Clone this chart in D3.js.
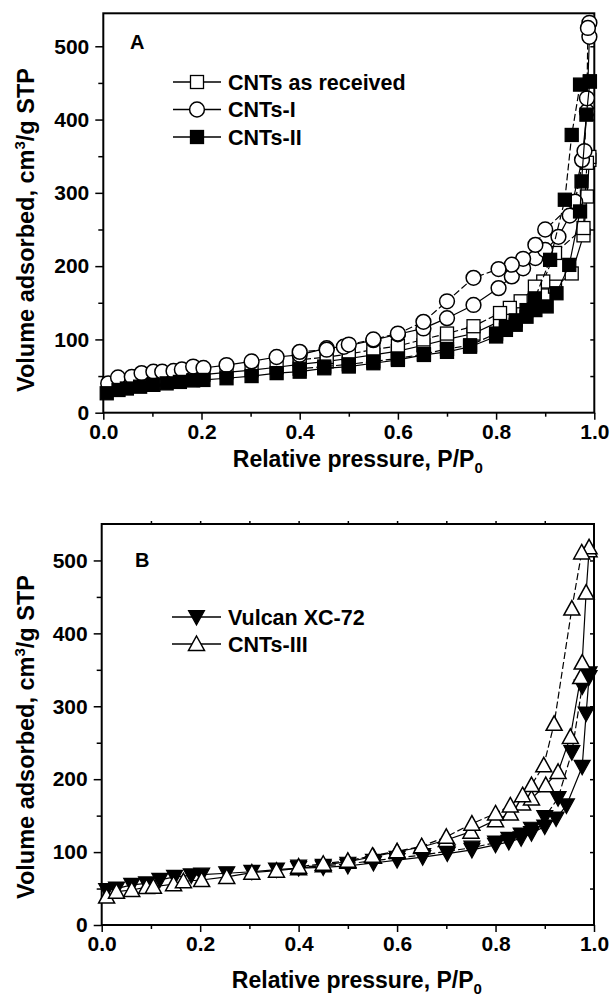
<!DOCTYPE html>
<html><head><meta charset="utf-8">
<script src="https://cdn.jsdelivr.net/npm/d3@7/dist/d3.min.js"></script>
<style>
body{margin:0;background:#fff;}
text{font-family:"Liberation Sans",Arial,Helvetica,sans-serif;font-weight:bold;fill:#000;}
</style></head><body>
<svg id="chart" width="613" height="997"></svg>
<script>
// ---------- DATA ----------
// Panel A
const recvAds = [[0.01,33],[0.03,37],[0.055,40],[0.078,43],[0.102,45],[0.12,46],[0.143,48],[0.16,49],[0.183,51],[0.204,52],[0.251,55],[0.302,58],[0.353,62],[0.40,66],[0.455,70],[0.50,74],[0.55,79],[0.60,84],[0.652,92],[0.70,100],[0.754,108],[0.808,125],[0.83,133],[0.855,141],[0.879,150],[0.90,160],[0.92,172],[0.954,190],[0.978,242],[0.985,295],[0.99,345]];
const recvDes = [[0.99,349],[0.985,341],[0.978,252],[0.92,218],[0.896,179],[0.879,172],[0.85,152],[0.828,143],[0.808,136],[0.754,118],[0.70,108],[0.652,100],[0.60,91],[0.55,86],[0.50,80],[0.455,76],[0.40,72]];
const cnt1Ads = [[0.01,40],[0.03,48],[0.058,49],[0.078,54],[0.102,56],[0.12,56],[0.143,57],[0.16,59],[0.183,63],[0.204,61],[0.251,65],[0.302,70],[0.353,76],[0.40,79],[0.455,88],[0.49,90],[0.55,99],[0.60,107],[0.652,115],[0.70,129],[0.754,147],[0.805,170],[0.832,186],[0.855,197],[0.88,211],[0.90,222],[0.927,240],[0.95,269],[0.975,345],[0.985,411],[0.99,513]];
const cnt1Des = [[0.99,532],[0.987,525],[0.985,429],[0.98,357],[0.961,288],[0.90,250],[0.88,229],[0.855,210],[0.832,202],[0.805,196],[0.754,184],[0.70,152],[0.652,124],[0.60,108],[0.55,100],[0.50,93],[0.455,86],[0.40,83]];
const cnt2Ads = [[0.007,26.5],[0.031,31],[0.048,33],[0.075,35.5],[0.102,38],[0.129,40],[0.156,42],[0.183,44],[0.204,44.7],[0.251,47],[0.302,50],[0.353,54],[0.40,56],[0.45,60.6],[0.50,63],[0.55,67.5],[0.60,72],[0.653,78.8],[0.70,83],[0.747,90],[0.80,104],[0.82,113],[0.84,120],[0.862,131],[0.88,140],[0.903,145],[0.923,163],[0.949,201.7],[0.971,274.6],[0.974,315.6],[0.984,406.7],[0.991,452]];
const cnt2Des = [[0.991,452],[0.971,447.7],[0.954,379],[0.94,290.6],[0.91,208.6],[0.879,156],[0.862,140],[0.84,126],[0.82,117],[0.80,108],[0.747,92],[0.70,87],[0.653,80],[0.60,74],[0.55,70],[0.50,66],[0.45,63],[0.40,60]];
// Panel B
const vulcAds = [[0.01,48],[0.03,50],[0.061,55],[0.091,57],[0.118,62],[0.148,66],[0.182,68],[0.203,69],[0.254,71],[0.305,73],[0.355,76],[0.40,78],[0.45,79],[0.50,81],[0.552,85],[0.60,89],[0.652,93],[0.702,98],[0.752,103],[0.80,110],[0.827,114],[0.852,119],[0.873,126],[0.90,135],[0.923,146],[0.944,164],[0.976,217],[0.984,290],[0.99,340]];
const vulcDes = [[0.99,345],[0.976,327],[0.955,237],[0.927,174],[0.90,148],[0.873,132],[0.852,124],[0.827,118],[0.80,113],[0.752,106],[0.702,101],[0.652,96],[0.60,92],[0.552,88],[0.50,84],[0.45,81],[0.40,80]];
const cnt3Ads = [[0.01,39],[0.03,45.7],[0.061,48],[0.091,52],[0.105,52.5],[0.146,56],[0.166,60],[0.203,61.7],[0.254,66],[0.305,71.8],[0.355,74.5],[0.40,77.7],[0.45,82],[0.50,86.8],[0.552,93.7],[0.60,100.5],[0.65,107],[0.70,116.6],[0.75,128],[0.80,143.8],[0.83,153],[0.855,166.7],[0.873,173.5],[0.902,191.8],[0.927,210],[0.952,258],[0.973,340],[0.976,360],[0.984,456],[0.99,514]];
const cnt3Des = [[0.99,518],[0.975,511],[0.955,434],[0.919,276],[0.898,219],[0.873,192],[0.855,178],[0.83,164],[0.80,153],[0.752,139],[0.70,121],[0.65,108],[0.60,101],[0.55,95],[0.50,88],[0.45,84],[0.40,80]];

const xMajor = [0,0.2,0.4,0.6,0.8,1.0];
const xMinor = [0.1,0.3,0.5,0.7,0.9];
const yMajor = [0,100,200,300,400,500];
const yMinor = [50,150,250,350,450];
const yRight = [50,100,150,200,250,300,350,400,450,500];
const xTop = [0.1,0.2,0.3,0.4,0.5,0.6,0.7,0.8,0.9];

const legendA = ["CNTs as received","CNTs-I","CNTs-II"];
const legendB = ["Vulcan XC-72","CNTs-III"];

// ---------- DRAW ----------
const svg = d3.select("#chart");
svg.append("rect").attr("width",613).attr("height",997).attr("fill","#fff");

function marker(g, type, cx, cy){
  if(type==="sqOpen"||type==="sqFill"){
    g.append("rect").attr("x",cx-6.5).attr("y",cy-6.5).attr("width",13).attr("height",13)
     .attr("fill",type==="sqFill"?"#000":"#fff").attr("stroke","#000").attr("stroke-width",1.3);
  } else if(type==="circ"){
    g.append("circle").attr("cx",cx).attr("cy",cy).attr("r",7.4)
     .attr("fill","#fff").attr("stroke","#000").attr("stroke-width",1.5);
  } else if(type==="triUp"){
    g.append("path").attr("d",`M${cx},${cy-8}L${cx+8},${cy+6.5}L${cx-8},${cy+6.5}Z`)
     .attr("fill","#fff").attr("stroke","#000").attr("stroke-width",1.5);
  } else if(type==="triDown"){
    g.append("path").attr("d",`M${cx},${cy+8}L${cx+8},${cy-6.5}L${cx-8},${cy-6.5}Z`)
     .attr("fill","#000").attr("stroke","#000").attr("stroke-width",1.2);
  }
}

function panel(cfg){
  const x = d3.scaleLinear().domain([0,1]).range([cfg.left,cfg.right]);
  const y = d3.scaleLinear().domain([0,cfg.ymax]).range([cfg.bottom,cfg.top]);
  const g = svg.append("g");

  g.append("g").attr("transform",`translate(0,${cfg.bottom})`)
    .call(d3.axisBottom(x).tickValues(xMajor).tickSize(7).tickSizeOuter(0).tickPadding(4).tickFormat(d3.format(".1f")));
  g.append("g").attr("transform",`translate(0,${cfg.bottom})`)
    .call(d3.axisBottom(x).tickValues(xMinor).tickSize(4).tickSizeOuter(0).tickFormat(""));
  g.append("g").attr("transform",`translate(${cfg.left},0)`)
    .call(d3.axisLeft(y).tickValues(yMajor).tickSize(8).tickSizeOuter(0).tickPadding(6));
  g.append("g").attr("transform",`translate(${cfg.left},0)`)
    .call(d3.axisLeft(y).tickValues(yMinor).tickSize(5).tickSizeOuter(0).tickFormat(""));
  g.append("g").attr("transform",`translate(${cfg.right},0)`)
    .call(d3.axisRight(y).tickValues(yRight).tickSize(-4).tickSizeOuter(0).tickFormat(""));
  if(cfg.topTicks){
    g.append("g").attr("transform",`translate(0,${cfg.top})`)
      .call(d3.axisTop(x).tickValues(xTop).tickSize(3).tickSizeOuter(0).tickFormat(""));
  }
  g.selectAll(".domain").remove();
  g.selectAll(".tick line").attr("stroke","#000").attr("stroke-width",1.5);
  g.selectAll(".tick text").attr("font-size",21).attr("font-weight","bold")
    .attr("font-family","'Liberation Sans',Arial,sans-serif").attr("fill","#000");

  g.append("rect").attr("x",cfg.left).attr("y",cfg.top)
    .attr("width",cfg.right-cfg.left).attr("height",cfg.bottom-cfg.top)
    .attr("fill","none").attr("stroke","#000").attr("stroke-width",2);

  const line = d3.line().x(d=>x(d[0])).y(d=>y(d[1]));
  cfg.series.forEach(s=>{
    const sg = g.append("g");
    sg.append("path").datum(s.ads).attr("d",line).attr("fill","none")
      .attr("stroke","#000").attr("stroke-width",1.2);
    sg.append("path").datum(s.des).attr("d",line).attr("fill","none")
      .attr("stroke","#000").attr("stroke-width",1.2).attr("stroke-dasharray","7,3");
    s.ads.concat(s.des).forEach(d=>marker(sg,s.type,x(d[0]),y(d[1])));
  });

  g.append("text").attr("x",cfg.letterX).attr("y",cfg.letterY).attr("font-size",20).text(cfg.letter);

  cfg.legend.forEach((name,i)=>{
    const ly = cfg.legY + i*cfg.legDy;
    g.append("line").attr("x1",cfg.legX1).attr("x2",cfg.legX2).attr("y1",ly).attr("y2",ly)
      .attr("stroke","#000").attr("stroke-width",1.5);
    marker(g,cfg.series[i].type,(cfg.legX1+cfg.legX2)/2,ly);
    g.append("text").attr("x",cfg.legX2+7).attr("y",ly+7.5).attr("font-size",21.5).text(name);
  });

  const xt = g.append("text").attr("x",(cfg.left+cfg.right)/2+9).attr("y",cfg.xTitleY)
    .attr("text-anchor","middle").attr("font-size",23);
  xt.append("tspan").text("Relative pressure, P/P");
  xt.append("tspan").attr("dy",6).attr("font-size",15).text("0");

  const yt = g.append("text").attr("transform",`translate(${cfg.yTitleX},${cfg.yTitleC}) rotate(-90)`)
    .attr("text-anchor","middle").attr("font-size",23.5);
  yt.append("tspan").text("Volume adsorbed, cm");
  yt.append("tspan").attr("dy",-9).attr("font-size",15).text("3");
  yt.append("tspan").attr("dy",9).text("/g STP");
}

panel({left:103.3,right:594.3,top:13.3,bottom:412.7,ymax:545,topTicks:false,
  letter:"A",letterX:130,letterY:48.5,
  legend:legendA,legX1:173,legX2:221,legY:82,legDy:27.5,
  xTitleY:467,yTitleX:34,yTitleC:230,
  series:[{ads:recvAds,des:recvDes,type:"sqOpen"},{ads:cnt1Ads,des:cnt1Des,type:"circ"},{ads:cnt2Ads,des:cnt2Des,type:"sqFill"}]});

panel({left:101.7,right:594,top:524,bottom:925,ymax:550,topTicks:true,
  letter:"B",letterX:135,letterY:567,
  legend:legendB,legX1:172,legX2:221,legY:617,legDy:27,
  xTitleY:988,yTitleX:34,yTitleC:737,
  series:[{ads:vulcAds,des:vulcDes,type:"triDown"},{ads:cnt3Ads,des:cnt3Des,type:"triUp"}]});
</script>
</body></html>
